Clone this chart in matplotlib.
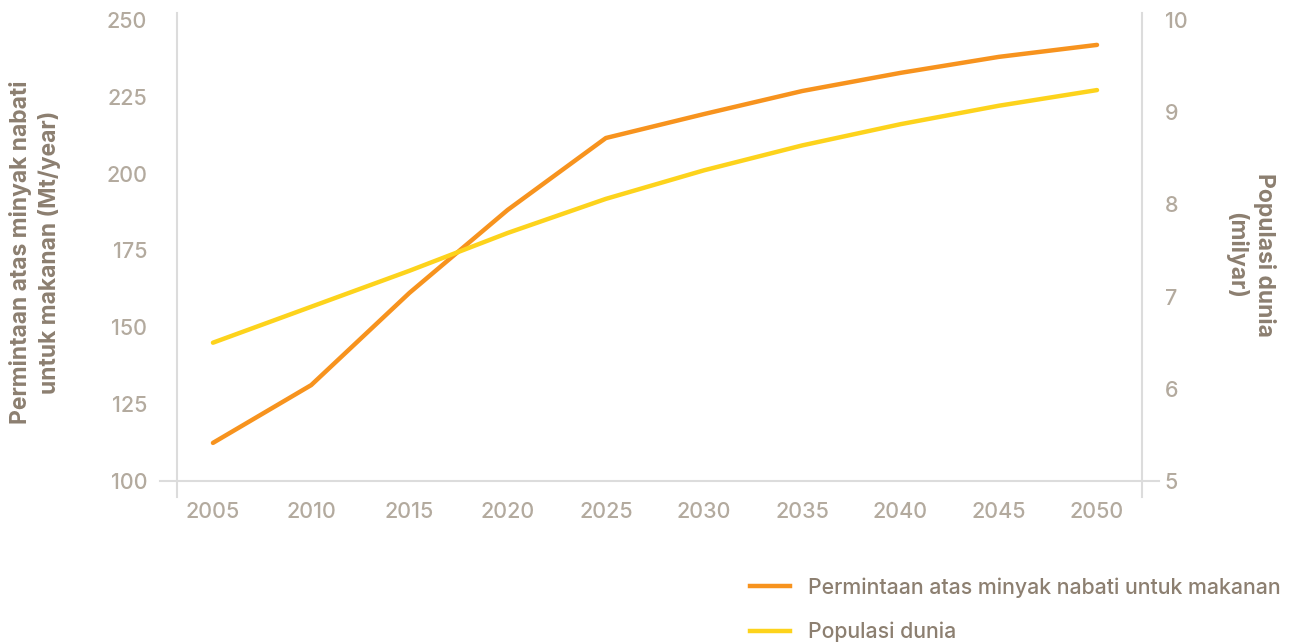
import matplotlib
matplotlib.use("Agg")
import matplotlib.pyplot as plt
from matplotlib.lines import Line2D

years = [2005, 2010, 2015, 2020, 2025, 2030, 2035, 2040, 2045, 2050]
demand = [112.4, 131.2, 161.2, 188.2, 211.6, 219.4, 226.9, 232.8, 238.0, 241.9]
population = [6.50, 6.89, 7.28, 7.69, 8.06, 8.37, 8.64, 8.87, 9.07, 9.24]
left_ticks = [100, 125, 150, 175, 200, 225, 250]
right_ticks = [5, 6, 7, 8, 9, 10]

label_demand = "Permintaan atas minyak nabati untuk makanan"
label_pop = "Populasi dunia"

plt.rcParams['font.family'] = ['Inter', 'DejaVu Sans']

ORANGE = "#f7931e"
YELLOW = "#fdd31c"
TICK = "#b3aa9e"
LABEL = "#8c7f70"
AXIS = "#dcdcdc"

fig = plt.figure(figsize=(12.91, 6.44), dpi=100)
ax = fig.add_axes([177/1291, 1-481/644, (1142-177)/1291, (481-20)/644])
ax2 = ax.twinx()

ax.plot(years, demand, color=ORANGE, lw=3.2, solid_capstyle='round', zorder=3)
ax2.plot(years, population, color=YELLOW, lw=3.2, solid_capstyle='round', zorder=2)

ax.set_xlim(2003.17, 2052.29)
ax.set_ylim(100, 250)
ax2.set_ylim(5, 10)
ax.set_xticks(years)
ax.set_yticks(left_ticks)
ax2.set_yticks(right_ticks)

for a in (ax, ax2):
    for s in a.spines.values():
        s.set_visible(False)
    a.tick_params(length=0, colors=TICK, labelsize=15.5)
    for lab in a.get_xticklabels() + a.get_yticklabels():
        lab.set_fontweight('medium')

ax.tick_params(axis='y', pad=21.5)
ax2.tick_params(axis='y', pad=16.5)
ax.tick_params(axis='x', pad=15)

# axis lines (extended like the reference)
ax.plot([0, 0], [-0.035, 1.015], transform=ax.transAxes, color=AXIS, lw=1.5, clip_on=False, zorder=1)
ax.plot([1, 1], [-0.035, 1.015], transform=ax.transAxes, color=AXIS, lw=1.5, clip_on=False, zorder=1)
ax.plot([-0.018, 1.018], [0, 0], transform=ax.transAxes, color=AXIS, lw=1.5, clip_on=False, zorder=1)

fig.text(35/1291, 1-252/644, "Permintaan atas minyak nabati\nuntuk makanan (Mt/year)",
         rotation=90, ha='center', va='center', fontsize=16.5, fontweight='bold',
         color=LABEL, linespacing=1.35)
fig.text(1250/1291, 1-255/644, "Populasi dunia\n(milyar)",
         rotation=270, ha='center', va='center', fontsize=16.5, fontweight='bold',
         color=LABEL, linespacing=1.35)

handles = [Line2D([], [], color=ORANGE, lw=3.2), Line2D([], [], color=YELLOW, lw=3.2)]
leg = fig.legend(handles, [label_demand, label_pop], loc='upper left',
                 bbox_to_anchor=(750/1291, 1-577/644), frameon=False,
                 prop={'size': 15.3, 'weight': 'medium'}, labelcolor=LABEL,
                 handlelength=1.88, handletextpad=0.85, labelspacing=1.15,
                 borderpad=0, borderaxespad=0)

fig.savefig("out.png", dpi=100)
